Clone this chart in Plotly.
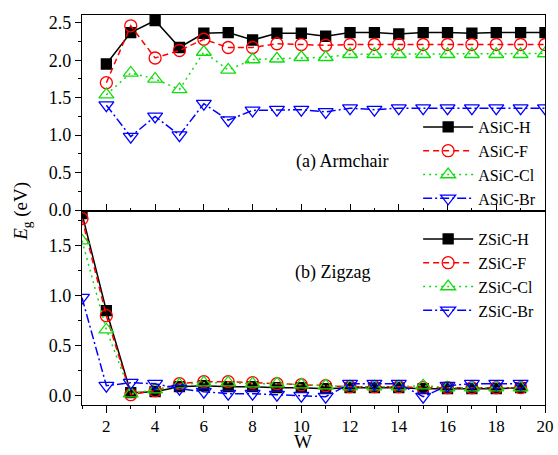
import plotly.graph_objects as go

W_arm = list(range(2, 21))
arm_H = [1.95, 2.37, 2.53, 2.17, 2.36, 2.37, 2.27, 2.36, 2.36, 2.32, 2.37, 2.37, 2.35, 2.37, 2.37, 2.36, 2.37, 2.37, 2.37]
arm_F = [1.70, 2.46, 2.03, 2.13, 2.28, 2.17, 2.17, 2.22, 2.21, 2.20, 2.21, 2.21, 2.21, 2.21, 2.21, 2.21, 2.21, 2.21, 2.21]
arm_Cl = [1.54, 1.83, 1.75, 1.61, 2.11, 1.87, 2.01, 2.02, 2.04, 2.04, 2.08, 2.08, 2.08, 2.08, 2.08, 2.08, 2.08, 2.08, 2.09]
arm_Br = [1.40, 0.98, 1.25, 1.00, 1.42, 1.20, 1.33, 1.34, 1.34, 1.31, 1.36, 1.34, 1.36, 1.36, 1.36, 1.36, 1.36, 1.36, 1.36]

W_zig = list(range(1, 20))
zig_H = [1.82, 0.85, 0.03, 0.04, 0.09, 0.10, 0.09, 0.09, 0.08, 0.08, 0.07, 0.08, 0.08, 0.08, 0.07, 0.07, 0.07, 0.07, 0.08]
zig_F = [1.77, 0.80, 0.01, 0.05, 0.12, 0.14, 0.14, 0.13, 0.12, 0.11, 0.10, 0.09, 0.09, 0.09, 0.08, 0.08, 0.08, 0.08, 0.08]
zig_Cl = [1.55, 0.66, 0.02, 0.06, 0.11, 0.13, 0.13, 0.12, 0.12, 0.11, 0.10, 0.09, 0.09, 0.09, 0.10, 0.08, 0.08, 0.08, 0.08]
zig_Br = [0.98, 0.10, 0.13, 0.12, 0.07, 0.04, 0.02, 0.02, 0.01, 0.00, -0.01, 0.12, 0.12, 0.12, -0.01, 0.10, 0.12, 0.12, 0.12]

arm_names = ["ASiC-H", "ASiC-F", "ASiC-Cl", "ASiC-Br"]
zig_names = ["ZSiC-H", "ZSiC-F", "ZSiC-Cl", "ZSiC-Br"]

FONT = "Liberation Serif, Times New Roman, Times, serif"
styles = [
    dict(color="#000000", dash="solid", symbol="square", size=10),
    dict(color="#ff0000", dash="6px,4px", symbol="circle-open", size=12),
    dict(color="#11dd11", dash="2px,4px", symbol="triangle-up-open", size=13),
    dict(color="#0000ff", dash="9px,3px,2px,3px", symbol="triangle-down-open", size=13),
]

fig = go.Figure()

for name, ys, st in zip(arm_names, [arm_H, arm_F, arm_Cl, arm_Br], styles):
    fig.add_trace(go.Scatter(
        x=W_arm, y=ys, name=name, mode="lines+markers",
        xaxis="x2", yaxis="y2", legend="legend2",
        line=dict(color=st["color"], width=1.5, dash=st["dash"]),
        marker=dict(symbol=st["symbol"], size=st["size"], color=st["color"],
                    line=dict(color=st["color"], width=1.3)),
    ))

for name, ys, st in zip(zig_names, [zig_H, zig_F, zig_Cl, zig_Br], styles):
    fig.add_trace(go.Scatter(
        x=W_zig, y=ys, name=name, mode="lines+markers",
        xaxis="x", yaxis="y", legend="legend",
        line=dict(color=st["color"], width=1.5, dash=st["dash"]),
        marker=dict(symbol=st["symbol"], size=st["size"], color=st["color"],
                    line=dict(color=st["color"], width=1.3)),
    ))

axis_common = dict(showgrid=False, zeroline=False, showline=True, linecolor="black",
                   linewidth=1.3, mirror=True, tickcolor="black", tickwidth=1.3,
                   automargin=False)

T, B = 15, 405
H = B - T
SPLIT = (B - 211) / H
fig.update_layout(
    width=558, height=455,
    margin=dict(l=82, r=13, t=T, b=455 - B),
    paper_bgcolor="white", plot_bgcolor="white",
    font=dict(family=FONT, size=18, color="black"),
    xaxis=dict(**axis_common, range=[1, 20], tick0=0, dtick=2, ticks="outside", ticklen=7,
               ticklabelstandoff=-2, tickfont=dict(family=FONT, size=17, color="black"),
               minor=dict(ticks="outside", dtick=1, ticklen=3, tickcolor="black"),
               anchor="y"),
    yaxis=dict(**axis_common, domain=[0, SPLIT], range=[-0.093, 1.847], tick0=0, dtick=0.5,
               tickformat=".1f", ticks="outside", ticklen=6,
               tickfont=dict(family=FONT, size=18, color="black"),
               minor=dict(ticks="outside", dtick=0.25, ticklen=3, tickcolor="black"),
               anchor="x"),
    xaxis2=dict(**axis_common, range=[1, 20], tick0=0, dtick=2, ticks="inside", ticklen=7,
                showticklabels=False, matches="x",
                minor=dict(ticks="inside", dtick=1, ticklen=3, tickcolor="black"),
                anchor="y2"),
    yaxis2=dict(**axis_common, domain=[SPLIT, 1], range=[-0.013, 2.604], tick0=0, dtick=0.5,
                tickformat=".1f", ticks="outside", ticklen=6,
                tickfont=dict(family=FONT, size=18, color="black"),
                minor=dict(ticks="outside", dtick=0.25, ticklen=3, tickcolor="black"),
                anchor="x2"),
    legend2=dict(x=0.726, y=(B - 110) / H, xanchor="left", yanchor="top", bgcolor="rgba(0,0,0,0)",
                 font=dict(family=FONT, size=16), itemwidth=50, tracegroupgap=0),
    legend=dict(x=0.726, y=(B - 222) / H, xanchor="left", yanchor="top", bgcolor="rgba(0,0,0,0)",
                font=dict(family=FONT, size=16), itemwidth=50, tracegroupgap=0),
    annotations=[
        dict(text="(a) Armchair", xref="paper", yref="paper", x=(294 - 82) / 463, y=(B - 161) / H,
             xanchor="left", yanchor="middle", showarrow=False, font=dict(family=FONT, size=18)),
        dict(text="(b) Zigzag", xref="paper", yref="paper", x=(293 - 82) / 463, y=(B - 272) / H,
             xanchor="left", yanchor="middle", showarrow=False, font=dict(family=FONT, size=18)),
        dict(text="<i>E</i><sub>g</sub> (eV)", xref="paper", yref="paper", x=-0.13, y=SPLIT,
             xanchor="center", yanchor="middle", textangle=-90, showarrow=False,
             font=dict(family=FONT, size=19)),
        dict(text="W", xref="paper", yref="paper", x=(303 - 82) / 463, y=(B - 441.5) / H,
             xanchor="center", yanchor="middle", showarrow=False,
             font=dict(family=FONT, size=19)),
    ],
)

fig.write_html("out.html")
